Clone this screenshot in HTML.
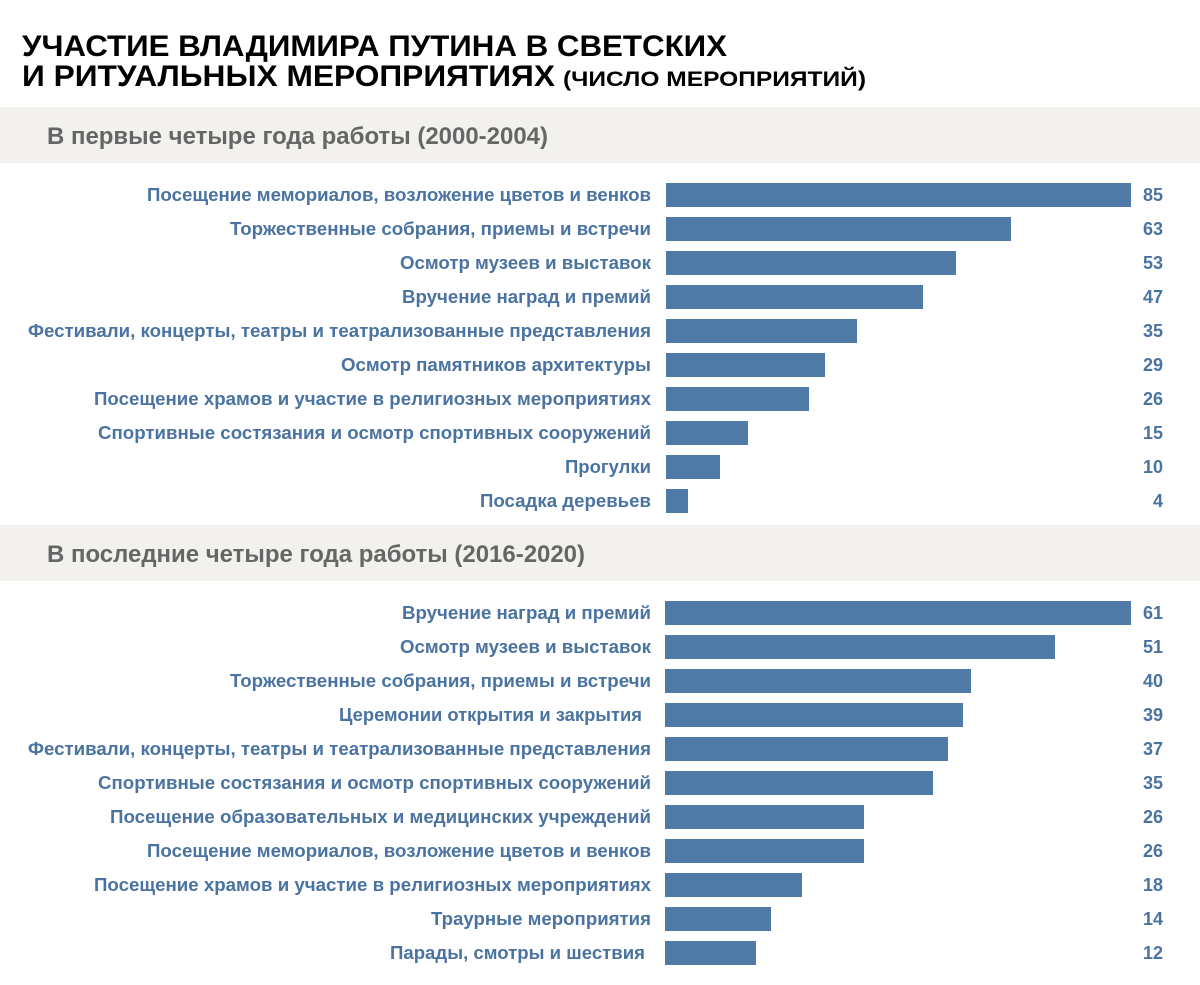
<!DOCTYPE html>
<html><head><meta charset="utf-8"><style>
html,body{margin:0;padding:0;background:#fff}
svg{display:block}
.t{font-family:"Liberation Sans",sans-serif;font-weight:bold;fill:#000}
.b{font-family:"Liberation Sans",sans-serif;font-weight:bold;fill:#666;font-size:24px}
.l{font-family:"Liberation Sans",sans-serif;font-weight:bold;fill:#4a73a1;font-size:18px}
.v{font-family:"Liberation Sans",sans-serif;font-weight:bold;fill:#4a73a1;font-size:18px;text-anchor:end}
</style></head><body>
<svg width="1200" height="985" xmlns="http://www.w3.org/2000/svg">
<text class="t" x="22" y="56" font-size="30" textLength="705" lengthAdjust="spacingAndGlyphs">УЧАСТИЕ ВЛАДИМИРА ПУТИНА В СВЕТСКИХ</text>
<text class="t" x="22" y="86" font-size="30" textLength="533" lengthAdjust="spacingAndGlyphs">И РИТУАЛЬНЫХ МЕРОПРИЯТИЯХ</text>
<text class="t" x="563" y="86" font-size="21" textLength="303" lengthAdjust="spacingAndGlyphs">(ЧИСЛО МЕРОПРИЯТИЙ)</text>
<rect x="0" y="107" width="1200" height="56" fill="#f2f1ed"/>
<text class="b" x="47" y="144" textLength="501" lengthAdjust="spacingAndGlyphs">В первые четыре года работы (2000-2004)</text>
<rect x="0" y="525" width="1200" height="56" fill="#f2f1ed"/>
<text class="b" x="47" y="562" textLength="538" lengthAdjust="spacingAndGlyphs">В последние четыре года работы (2016-2020)</text>
<g fill="#4f7aa6">
<rect x="666" y="183" width="465" height="24"/>
<rect x="666" y="217" width="345" height="24"/>
<rect x="666" y="251" width="290" height="24"/>
<rect x="666" y="285" width="257" height="24"/>
<rect x="666" y="319" width="191" height="24"/>
<rect x="666" y="353" width="159" height="24"/>
<rect x="666" y="387" width="143" height="24"/>
<rect x="666" y="421" width="82" height="24"/>
<rect x="666" y="455" width="54" height="24"/>
<rect x="666" y="489" width="22" height="24"/>
<rect x="665" y="601" width="466" height="24"/>
<rect x="665" y="635" width="390" height="24"/>
<rect x="665" y="669" width="306" height="24"/>
<rect x="665" y="703" width="298" height="24"/>
<rect x="665" y="737" width="283" height="24"/>
<rect x="665" y="771" width="268" height="24"/>
<rect x="665" y="805" width="199" height="24"/>
<rect x="665" y="839" width="199" height="24"/>
<rect x="665" y="873" width="137" height="24"/>
<rect x="665" y="907" width="106" height="24"/>
<rect x="665" y="941" width="91" height="24"/>
</g>
<g>
<text class="l" x="147" y="201" textLength="504" lengthAdjust="spacingAndGlyphs">Посещение мемориалов, возложение цветов и венков</text>
<text class="l" x="230" y="235" textLength="421" lengthAdjust="spacingAndGlyphs">Торжественные собрания, приемы и встречи</text>
<text class="l" x="400" y="269" textLength="251" lengthAdjust="spacingAndGlyphs">Осмотр музеев и выставок</text>
<text class="l" x="402" y="303" textLength="249" lengthAdjust="spacingAndGlyphs">Вручение наград и премий</text>
<text class="l" x="28" y="337" textLength="623" lengthAdjust="spacingAndGlyphs">Фестивали, концерты, театры и театрализованные представления</text>
<text class="l" x="341" y="371" textLength="310" lengthAdjust="spacingAndGlyphs">Осмотр памятников архитектуры</text>
<text class="l" x="94" y="405" textLength="557" lengthAdjust="spacingAndGlyphs">Посещение храмов и участие в религиозных мероприятиях</text>
<text class="l" x="98" y="439" textLength="553" lengthAdjust="spacingAndGlyphs">Спортивные состязания и осмотр спортивных сооружений</text>
<text class="l" x="565" y="473" textLength="86" lengthAdjust="spacingAndGlyphs">Прогулки</text>
<text class="l" x="480" y="507" textLength="171" lengthAdjust="spacingAndGlyphs">Посадка деревьев</text>
<text class="l" x="402" y="619" textLength="249" lengthAdjust="spacingAndGlyphs">Вручение наград и премий</text>
<text class="l" x="400" y="653" textLength="251" lengthAdjust="spacingAndGlyphs">Осмотр музеев и выставок</text>
<text class="l" x="230" y="687" textLength="421" lengthAdjust="spacingAndGlyphs">Торжественные собрания, приемы и встречи</text>
<text class="l" x="339" y="721" textLength="303" lengthAdjust="spacingAndGlyphs">Церемонии открытия и закрытия</text>
<text class="l" x="28" y="755" textLength="623" lengthAdjust="spacingAndGlyphs">Фестивали, концерты, театры и театрализованные представления</text>
<text class="l" x="98" y="789" textLength="553" lengthAdjust="spacingAndGlyphs">Спортивные состязания и осмотр спортивных сооружений</text>
<text class="l" x="110" y="823" textLength="541" lengthAdjust="spacingAndGlyphs">Посещение образовательных и медицинских учреждений</text>
<text class="l" x="147" y="857" textLength="504" lengthAdjust="spacingAndGlyphs">Посещение мемориалов, возложение цветов и венков</text>
<text class="l" x="94" y="891" textLength="557" lengthAdjust="spacingAndGlyphs">Посещение храмов и участие в религиозных мероприятиях</text>
<text class="l" x="431" y="925" textLength="220" lengthAdjust="spacingAndGlyphs">Траурные мероприятия</text>
<text class="l" x="390" y="959" textLength="255" lengthAdjust="spacingAndGlyphs">Парады, смотры и шествия</text>
</g>
<g>
<text class="v" x="1163" y="201">85</text>
<text class="v" x="1163" y="235">63</text>
<text class="v" x="1163" y="269">53</text>
<text class="v" x="1163" y="303">47</text>
<text class="v" x="1163" y="337">35</text>
<text class="v" x="1163" y="371">29</text>
<text class="v" x="1163" y="405">26</text>
<text class="v" x="1163" y="439">15</text>
<text class="v" x="1163" y="473">10</text>
<text class="v" x="1163" y="507">4</text>
<text class="v" x="1163" y="619">61</text>
<text class="v" x="1163" y="653">51</text>
<text class="v" x="1163" y="687">40</text>
<text class="v" x="1163" y="721">39</text>
<text class="v" x="1163" y="755">37</text>
<text class="v" x="1163" y="789">35</text>
<text class="v" x="1163" y="823">26</text>
<text class="v" x="1163" y="857">26</text>
<text class="v" x="1163" y="891">18</text>
<text class="v" x="1163" y="925">14</text>
<text class="v" x="1163" y="959">12</text>
</g>
</svg>
</body></html>
